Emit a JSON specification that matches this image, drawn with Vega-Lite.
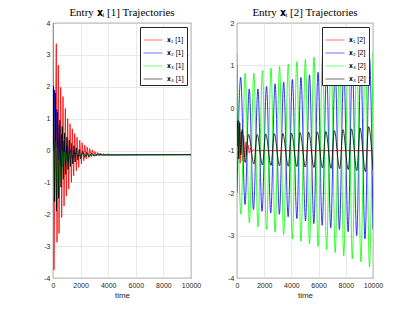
{
  "$schema": "https://vega.github.io/schema/vega-lite/v6.json",
  "padding": {"left": 43, "top": 6, "right": 5, "bottom": 5},
  "bounds": "flush",
  "spacing": 46,
  "config": {
    "font": "Liberation Sans",
    "view": {"stroke": "#262626", "strokeWidth": 0.8},
    "axis": {"grid": true, "gridColor": "#e3e3e3", "gridWidth": 0.8, "ticks": false, "domain": false, "labelFontSize": 7, "labelColor": "#262626", "labelPadding": 3, "labelFlush": false, "labelOverlap": false, "titleFontSize": 8, "titleFontWeight": "normal", "titleColor": "#262626", "titlePadding": 3},
    "title": {"font": "Liberation Serif", "fontSize": 11, "fontWeight": "normal", "color": "black", "offset": 1},
    "legend": {"orient": "top-right", "offset": 4, "strokeColor": "#262626", "fillColor": "white", "padding": 3, "symbolType": "stroke", "symbolSize": 360, "symbolStrokeWidth": 1, "symbolOpacity": 0.55, "labelFontSize": 7, "labelColor": "black", "rowPadding": -3}
  },
  "datasets": {
    "left": [
      {"s": "𝐱₁ [1]", "t": 0, "v": 4.0}, {"s": "𝐱₁ [1]", "t": 70, "v": -3.75}, {"s": "𝐱₁ [1]", "t": 240, "v": 3.35}, {"s": "𝐱₁ [1]", "t": 290, "v": -2.88},
      {"s": "𝐱₁ [1]", "t": 385, "v": 2.68}, {"s": "𝐱₁ [1]", "t": 435, "v": -2.6}, {"s": "𝐱₁ [1]", "t": 555, "v": 1.98}, {"s": "𝐱₁ [1]", "t": 630, "v": -2.1},
      {"s": "𝐱₁ [1]", "t": 725, "v": 1.69}, {"s": "𝐱₁ [1]", "t": 800, "v": -1.74}, {"s": "𝐱₁ [1]", "t": 895, "v": 1.32}, {"s": "𝐱₁ [1]", "t": 970, "v": -1.43},
      {"s": "𝐱₁ [1]", "t": 1065, "v": 1.0}, {"s": "𝐱₁ [1]", "t": 1140, "v": -1.21}, {"s": "𝐱₁ [1]", "t": 1235, "v": 0.84}, {"s": "𝐱₁ [1]", "t": 1335, "v": -1.0},
      {"s": "𝐱₁ [1]", "t": 1400, "v": 0.68}, {"s": "𝐱₁ [1]", "t": 1500, "v": -0.79}, {"s": "𝐱₁ [1]", "t": 1570, "v": 0.53}, {"s": "𝐱₁ [1]", "t": 1700, "v": -0.63},
      {"s": "𝐱₁ [1]", "t": 1740, "v": 0.42}, {"s": "𝐱₁ [1]", "t": 1865, "v": -0.53}, {"s": "𝐱₁ [1]", "t": 1935, "v": 0.32}, {"s": "𝐱₁ [1]", "t": 2060, "v": -0.42},
      {"s": "𝐱₁ [1]", "t": 2110, "v": 0.24}, {"s": "𝐱₁ [1]", "t": 2230, "v": -0.32}, {"s": "𝐱₁ [1]", "t": 2300, "v": 0.17}, {"s": "𝐱₁ [1]", "t": 2425, "v": -0.26},
      {"s": "𝐱₁ [1]", "t": 2470, "v": 0.11}, {"s": "𝐱₁ [1]", "t": 2600, "v": -0.22}, {"s": "𝐱₁ [1]", "t": 2660, "v": 0.06}, {"s": "𝐱₁ [1]", "t": 2780, "v": -0.2},
      {"s": "𝐱₁ [1]", "t": 2850, "v": 0.02}, {"s": "𝐱₁ [1]", "t": 2960, "v": -0.18}, {"s": "𝐱₁ [1]", "t": 3030, "v": -0.03}, {"s": "𝐱₁ [1]", "t": 3150, "v": -0.17},
      {"s": "𝐱₁ [1]", "t": 3220, "v": -0.06}, {"s": "𝐱₁ [1]", "t": 3350, "v": -0.16}, {"s": "𝐱₁ [1]", "t": 3420, "v": -0.08}, {"s": "𝐱₁ [1]", "t": 3550, "v": -0.15},
      {"s": "𝐱₁ [1]", "t": 3650, "v": -0.1}, {"s": "𝐱₁ [1]", "t": 3800, "v": -0.14}, {"s": "𝐱₁ [1]", "t": 3950, "v": -0.11}, {"s": "𝐱₁ [1]", "t": 4150, "v": -0.13},
      {"s": "𝐱₁ [1]", "t": 10000, "v": -0.13},
      {"s": "𝐱₂ [1]", "t": 0, "v": 2.05}, {"s": "𝐱₂ [1]", "t": 50, "v": 0.0}, {"s": "𝐱₂ [1]", "t": 120, "v": 1.9}, {"s": "𝐱₂ [1]", "t": 200, "v": 0.1},
      {"s": "𝐱₂ [1]", "t": 280, "v": 1.3}, {"s": "𝐱₂ [1]", "t": 360, "v": -0.3}, {"s": "𝐱₂ [1]", "t": 450, "v": 0.8}, {"s": "𝐱₂ [1]", "t": 530, "v": -0.45},
      {"s": "𝐱₂ [1]", "t": 620, "v": 0.5}, {"s": "𝐱₂ [1]", "t": 700, "v": -0.5}, {"s": "𝐱₂ [1]", "t": 800, "v": 0.3}, {"s": "𝐱₂ [1]", "t": 900, "v": -0.45},
      {"s": "𝐱₂ [1]", "t": 1000, "v": 0.15}, {"s": "𝐱₂ [1]", "t": 1100, "v": -0.35}, {"s": "𝐱₂ [1]", "t": 1250, "v": 0.0}, {"s": "𝐱₂ [1]", "t": 1400, "v": -0.25},
      {"s": "𝐱₂ [1]", "t": 1600, "v": -0.07}, {"s": "𝐱₂ [1]", "t": 1800, "v": -0.18}, {"s": "𝐱₂ [1]", "t": 2100, "v": -0.11}, {"s": "𝐱₂ [1]", "t": 2400, "v": -0.14},
      {"s": "𝐱₂ [1]", "t": 10000, "v": -0.13},
      {"s": "𝐱₃ [1]", "t": 0, "v": 0.2}, {"s": "𝐱₃ [1]", "t": 60, "v": -1.5}, {"s": "𝐱₃ [1]", "t": 150, "v": 0.3}, {"s": "𝐱₃ [1]", "t": 230, "v": -1.6},
      {"s": "𝐱₃ [1]", "t": 320, "v": 0.2}, {"s": "𝐱₃ [1]", "t": 400, "v": -1.3}, {"s": "𝐱₃ [1]", "t": 490, "v": 0.1}, {"s": "𝐱₃ [1]", "t": 570, "v": -0.95},
      {"s": "𝐱₃ [1]", "t": 660, "v": 0.0}, {"s": "𝐱₃ [1]", "t": 740, "v": -0.65}, {"s": "𝐱₃ [1]", "t": 830, "v": -0.05}, {"s": "𝐱₃ [1]", "t": 910, "v": -0.45},
      {"s": "𝐱₃ [1]", "t": 1000, "v": -0.08}, {"s": "𝐱₃ [1]", "t": 1100, "v": -0.28}, {"s": "𝐱₃ [1]", "t": 1250, "v": -0.1}, {"s": "𝐱₃ [1]", "t": 1400, "v": -0.16},
      {"s": "𝐱₃ [1]", "t": 1600, "v": -0.13}, {"s": "𝐱₃ [1]", "t": 10000, "v": -0.13},
      {"s": "𝐱₄ [1]", "t": 0, "v": 0.0}, {"s": "𝐱₄ [1]", "t": 40, "v": 2.0}, {"s": "𝐱₄ [1]", "t": 100, "v": -1.6}, {"s": "𝐱₄ [1]", "t": 170, "v": 1.8},
      {"s": "𝐱₄ [1]", "t": 250, "v": -1.9}, {"s": "𝐱₄ [1]", "t": 330, "v": 1.2}, {"s": "𝐱₄ [1]", "t": 410, "v": -1.5}, {"s": "𝐱₄ [1]", "t": 500, "v": 0.95},
      {"s": "𝐱₄ [1]", "t": 580, "v": -1.15}, {"s": "𝐱₄ [1]", "t": 670, "v": 0.75}, {"s": "𝐱₄ [1]", "t": 750, "v": -0.9}, {"s": "𝐱₄ [1]", "t": 840, "v": 0.55},
      {"s": "𝐱₄ [1]", "t": 920, "v": -0.75}, {"s": "𝐱₄ [1]", "t": 1010, "v": 0.42}, {"s": "𝐱₄ [1]", "t": 1090, "v": -0.6}, {"s": "𝐱₄ [1]", "t": 1180, "v": 0.32},
      {"s": "𝐱₄ [1]", "t": 1260, "v": -0.5}, {"s": "𝐱₄ [1]", "t": 1350, "v": 0.22}, {"s": "𝐱₄ [1]", "t": 1430, "v": -0.42}, {"s": "𝐱₄ [1]", "t": 1520, "v": 0.15},
      {"s": "𝐱₄ [1]", "t": 1600, "v": -0.36}, {"s": "𝐱₄ [1]", "t": 1700, "v": 0.08}, {"s": "𝐱₄ [1]", "t": 1800, "v": -0.3}, {"s": "𝐱₄ [1]", "t": 1900, "v": 0.03},
      {"s": "𝐱₄ [1]", "t": 2000, "v": -0.26}, {"s": "𝐱₄ [1]", "t": 2150, "v": -0.02}, {"s": "𝐱₄ [1]", "t": 2300, "v": -0.22}, {"s": "𝐱₄ [1]", "t": 2450, "v": -0.06},
      {"s": "𝐱₄ [1]", "t": 2600, "v": -0.19}, {"s": "𝐱₄ [1]", "t": 2800, "v": -0.09}, {"s": "𝐱₄ [1]", "t": 3000, "v": -0.16}, {"s": "𝐱₄ [1]", "t": 3300, "v": -0.11},
      {"s": "𝐱₄ [1]", "t": 3600, "v": -0.14}, {"s": "𝐱₄ [1]", "t": 10000, "v": -0.13}
    ],
    "right": [
      {"s": "𝐱₁ [2]", "t": 0, "v": 1.0}, {"s": "𝐱₁ [2]", "t": 80, "v": -0.9}, {"s": "𝐱₁ [2]", "t": 150, "v": -0.3}, {"s": "𝐱₁ [2]", "t": 230, "v": -1.3},
      {"s": "𝐱₁ [2]", "t": 320, "v": -0.55}, {"s": "𝐱₁ [2]", "t": 400, "v": -1.25}, {"s": "𝐱₁ [2]", "t": 490, "v": -0.65}, {"s": "𝐱₁ [2]", "t": 570, "v": -1.15},
      {"s": "𝐱₁ [2]", "t": 660, "v": -0.8}, {"s": "𝐱₁ [2]", "t": 740, "v": -1.1}, {"s": "𝐱₁ [2]", "t": 830, "v": -0.88}, {"s": "𝐱₁ [2]", "t": 910, "v": -1.06},
      {"s": "𝐱₁ [2]", "t": 1000, "v": -0.94}, {"s": "𝐱₁ [2]", "t": 1100, "v": -1.03}, {"s": "𝐱₁ [2]", "t": 1200, "v": -0.98}, {"s": "𝐱₁ [2]", "t": 1350, "v": -1.0},
      {"s": "𝐱₁ [2]", "t": 10000, "v": -1.0},
      {"s": "𝐱₂ [2]", "t": 0, "v": -2.0}, {"s": "𝐱₂ [2]", "t": 270, "v": 0.72}, {"s": "𝐱₂ [2]", "t": 590, "v": -2.27}, {"s": "𝐱₂ [2]", "t": 900, "v": 0.45},
      {"s": "𝐱₂ [2]", "t": 1210, "v": -2.39}, {"s": "𝐱₂ [2]", "t": 1540, "v": 0.45}, {"s": "𝐱₂ [2]", "t": 1840, "v": -2.43}, {"s": "𝐱₂ [2]", "t": 2170, "v": 0.51},
      {"s": "𝐱₂ [2]", "t": 2480, "v": -2.47}, {"s": "𝐱₂ [2]", "t": 2800, "v": 0.57}, {"s": "𝐱₂ [2]", "t": 3120, "v": -2.5}, {"s": "𝐱₂ [2]", "t": 3430, "v": 0.61},
      {"s": "𝐱₂ [2]", "t": 3760, "v": -2.56}, {"s": "𝐱₂ [2]", "t": 4070, "v": 0.67}, {"s": "𝐱₂ [2]", "t": 4400, "v": -2.6}, {"s": "𝐱₂ [2]", "t": 4700, "v": 0.72},
      {"s": "𝐱₂ [2]", "t": 5040, "v": -2.66}, {"s": "𝐱₂ [2]", "t": 5330, "v": 0.78}, {"s": "𝐱₂ [2]", "t": 5650, "v": -2.72}, {"s": "𝐱₂ [2]", "t": 5960, "v": 0.84},
      {"s": "𝐱₂ [2]", "t": 6260, "v": -2.76}, {"s": "𝐱₂ [2]", "t": 6590, "v": 0.9}, {"s": "𝐱₂ [2]", "t": 6890, "v": -2.82}, {"s": "𝐱₂ [2]", "t": 7220, "v": 0.95},
      {"s": "𝐱₂ [2]", "t": 7530, "v": -2.86}, {"s": "𝐱₂ [2]", "t": 7850, "v": 1.0}, {"s": "𝐱₂ [2]", "t": 8170, "v": -2.91}, {"s": "𝐱₂ [2]", "t": 8480, "v": 1.07},
      {"s": "𝐱₂ [2]", "t": 8800, "v": -3.0}, {"s": "𝐱₂ [2]", "t": 9110, "v": 1.13}, {"s": "𝐱₂ [2]", "t": 9410, "v": -3.08}, {"s": "𝐱₂ [2]", "t": 9740, "v": 1.2},
      {"s": "𝐱₂ [2]", "t": 10000, "v": -2.85},
      {"s": "𝐱₃ [2]", "t": 0, "v": 1.29}, {"s": "𝐱₃ [2]", "t": 290, "v": -2.5}, {"s": "𝐱₃ [2]", "t": 600, "v": 0.82}, {"s": "𝐱₃ [2]", "t": 910, "v": -2.7},
      {"s": "𝐱₃ [2]", "t": 1240, "v": 0.82}, {"s": "𝐱₃ [2]", "t": 1540, "v": -2.8}, {"s": "𝐱₃ [2]", "t": 1870, "v": 0.88}, {"s": "𝐱₃ [2]", "t": 2170, "v": -2.86},
      {"s": "𝐱₃ [2]", "t": 2500, "v": 0.94}, {"s": "𝐱₃ [2]", "t": 2800, "v": -2.92}, {"s": "𝐱₃ [2]", "t": 3130, "v": 0.98}, {"s": "𝐱₃ [2]", "t": 3430, "v": -2.98},
      {"s": "𝐱₃ [2]", "t": 3770, "v": 1.03}, {"s": "𝐱₃ [2]", "t": 4070, "v": -3.08}, {"s": "𝐱₃ [2]", "t": 4400, "v": 1.09}, {"s": "𝐱₃ [2]", "t": 4700, "v": -3.14},
      {"s": "𝐱₃ [2]", "t": 5030, "v": 1.15}, {"s": "𝐱₃ [2]", "t": 5330, "v": -3.2}, {"s": "𝐱₃ [2]", "t": 5660, "v": 1.2}, {"s": "𝐱₃ [2]", "t": 5960, "v": -3.26},
      {"s": "𝐱₃ [2]", "t": 6290, "v": 1.24}, {"s": "𝐱₃ [2]", "t": 6590, "v": -3.33}, {"s": "𝐱₃ [2]", "t": 6920, "v": 1.28}, {"s": "𝐱₃ [2]", "t": 7220, "v": -3.4},
      {"s": "𝐱₃ [2]", "t": 7550, "v": 1.31}, {"s": "𝐱₃ [2]", "t": 7850, "v": -3.48}, {"s": "𝐱₃ [2]", "t": 8180, "v": 1.33}, {"s": "𝐱₃ [2]", "t": 8480, "v": -3.55},
      {"s": "𝐱₃ [2]", "t": 8810, "v": 1.35}, {"s": "𝐱₃ [2]", "t": 9110, "v": -3.62}, {"s": "𝐱₃ [2]", "t": 9440, "v": 1.37}, {"s": "𝐱₃ [2]", "t": 9740, "v": -3.74},
      {"s": "𝐱₃ [2]", "t": 10000, "v": 1.3},
      {"s": "𝐱₄ [2]", "t": 0, "v": -0.9}, {"s": "𝐱₄ [2]", "t": 60, "v": -0.3}, {"s": "𝐱₄ [2]", "t": 130, "v": -1.2}, {"s": "𝐱₄ [2]", "t": 200, "v": -0.35},
      {"s": "𝐱₄ [2]", "t": 280, "v": -1.1}, {"s": "𝐱₄ [2]", "t": 380, "v": -0.5}, {"s": "𝐱₄ [2]", "t": 600, "v": -1.28}, {"s": "𝐱₄ [2]", "t": 850, "v": -0.62},
      {"s": "𝐱₄ [2]", "t": 1240, "v": -1.32}, {"s": "𝐱₄ [2]", "t": 1480, "v": -0.62}, {"s": "𝐱₄ [2]", "t": 1870, "v": -1.34}, {"s": "𝐱₄ [2]", "t": 2110, "v": -0.61},
      {"s": "𝐱₄ [2]", "t": 2500, "v": -1.35}, {"s": "𝐱₄ [2]", "t": 2740, "v": -0.6}, {"s": "𝐱₄ [2]", "t": 3130, "v": -1.36}, {"s": "𝐱₄ [2]", "t": 3370, "v": -0.6},
      {"s": "𝐱₄ [2]", "t": 3770, "v": -1.37}, {"s": "𝐱₄ [2]", "t": 4010, "v": -0.59}, {"s": "𝐱₄ [2]", "t": 4400, "v": -1.38}, {"s": "𝐱₄ [2]", "t": 4640, "v": -0.58},
      {"s": "𝐱₄ [2]", "t": 5030, "v": -1.39}, {"s": "𝐱₄ [2]", "t": 5270, "v": -0.57}, {"s": "𝐱₄ [2]", "t": 5660, "v": -1.4}, {"s": "𝐱₄ [2]", "t": 5900, "v": -0.56},
      {"s": "𝐱₄ [2]", "t": 6290, "v": -1.41}, {"s": "𝐱₄ [2]", "t": 6530, "v": -0.55}, {"s": "𝐱₄ [2]", "t": 6920, "v": -1.42}, {"s": "𝐱₄ [2]", "t": 7160, "v": -0.53},
      {"s": "𝐱₄ [2]", "t": 7550, "v": -1.43}, {"s": "𝐱₄ [2]", "t": 7790, "v": -0.51}, {"s": "𝐱₄ [2]", "t": 8180, "v": -1.45}, {"s": "𝐱₄ [2]", "t": 8420, "v": -0.49},
      {"s": "𝐱₄ [2]", "t": 8810, "v": -1.47}, {"s": "𝐱₄ [2]", "t": 9050, "v": -0.47}, {"s": "𝐱₄ [2]", "t": 9440, "v": -1.5}, {"s": "𝐱₄ [2]", "t": 9680, "v": -0.44},
      {"s": "𝐱₄ [2]", "t": 10000, "v": -1.45}
    ]
  },
  "hconcat": [
    {
      "width": 138, "height": 255,
      "title": "Entry 𝐱ᵢ [1] Trajectories",
      "data": {"name": "left"},
      "mark": {"type": "line", "strokeWidth": 0.8, "clip": true},
      "encoding": {
        "x": {"field": "t", "type": "quantitative", "scale": {"domain": [0, 10000], "nice": false}, "axis": {"title": "time", "values": [0, 2000, 4000, 6000, 8000, 10000], "format": "d"}},
        "y": {"field": "v", "type": "quantitative", "scale": {"domain": [-4, 4], "nice": false, "zero": false}, "axis": {"title": null, "values": [-4, -3, -2, -1, 0, 1, 2, 3, 4], "labelExpr": "'' + datum.value"}},
        "color": {"field": "s", "type": "nominal", "scale": {"domain": ["𝐱₁ [1]", "𝐱₂ [1]", "𝐱₃ [1]", "𝐱₄ [1]"], "range": ["#ff0000", "#0000ff", "#00ff00", "#000000"]}, "legend": {"title": null}}
      }
    },
    {
      "width": 136, "height": 255,
      "title": "Entry 𝐱ᵢ [2] Trajectories",
      "data": {"name": "right"},
      "mark": {"type": "line", "strokeWidth": 0.8, "clip": true, "interpolate": "monotone"},
      "encoding": {
        "x": {"field": "t", "type": "quantitative", "scale": {"domain": [0, 10000], "nice": false}, "axis": {"title": "time", "values": [0, 2000, 4000, 6000, 8000, 10000], "format": "d"}},
        "y": {"field": "v", "type": "quantitative", "scale": {"domain": [-4, 2], "nice": false, "zero": false}, "axis": {"title": null, "values": [-4, -3, -2, -1, 0, 1, 2], "labelExpr": "'' + datum.value"}},
        "color": {"field": "s", "type": "nominal", "scale": {"domain": ["𝐱₁ [2]", "𝐱₂ [2]", "𝐱₃ [2]", "𝐱₄ [2]"], "range": ["#ff0000", "#0000ff", "#00ff00", "#000000"]}, "legend": {"title": null}}
      }
    }
  ],
  "resolve": {"scale": {"color": "independent", "x": "independent", "y": "independent"}}
}
